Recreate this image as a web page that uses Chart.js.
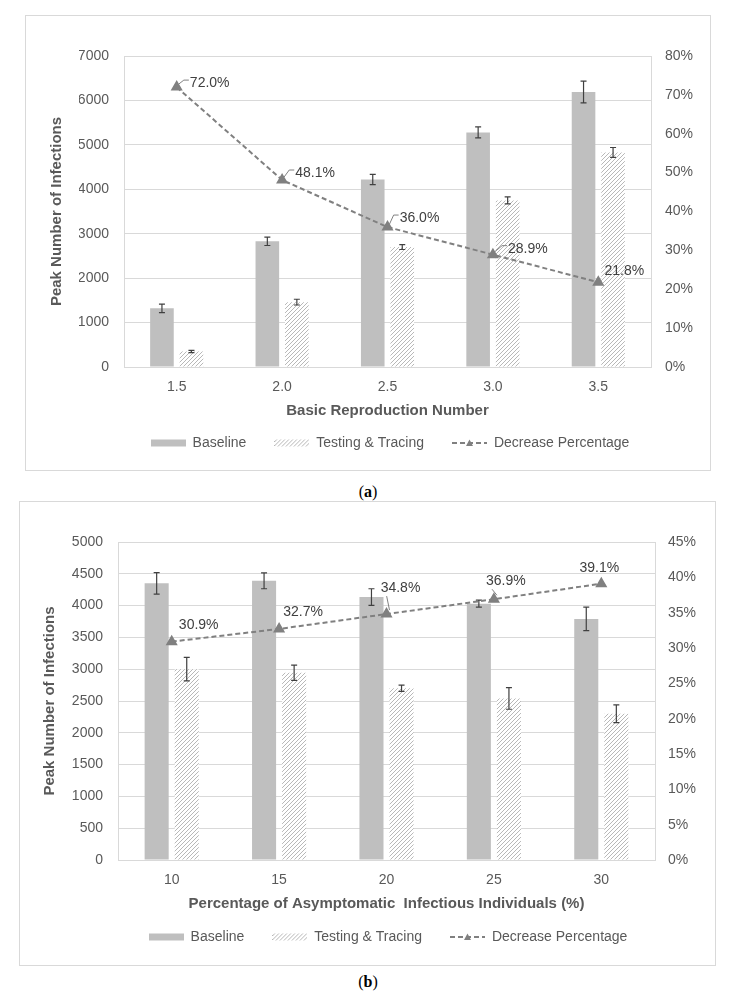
<!DOCTYPE html>
<html>
<head>
<meta charset="utf-8">
<title>Peak Number of Infections</title>
<script src="https://cdn.jsdelivr.net/npm/chart.js@4.4.1/dist/chart.umd.min.js"></script>
<style>
    body { margin: 0; background: #fff; width: 736px; height: 1006px; position: relative; }
    .panel { position: absolute; border: 1px solid #d9d9d9; background: #fff; }
    .panel canvas { display: block; }
    #panel-a { left: 25px; top: 15px; width: 684px; height: 454px; }
    #panel-b { left: 19px; top: 501px; width: 695px; height: 463px; }
    .caption { position: absolute; left: 0; width: 736px; text-align: center; line-height: 20px;
               font: 16px "Liberation Serif", "DejaVu Serif", serif; color: #000; }
</style>
</head>
<body>
<div class="panel" id="panel-a"><canvas id="chart-a" width="684" height="454"></canvas></div>
<div class="caption" style="top: 483px;">(<b>a</b>)</div>
<div class="panel" id="panel-b"><canvas id="chart-b" width="695" height="463"></canvas></div>
<div class="caption" style="top: 973px;">(<b>b</b>)</div>

<script>
// Panel (a) - basic reproduction number
const reproNumbers = ['1.5', '2.0', '2.5', '3.0', '3.5'];
const baselineA = [1320, 2830, 4220, 5280, 6190];
const baselineErrA = [95, 95, 115, 125, 245];
const tracingA = [350, 1460, 2700, 3750, 4830];
const tracingErrA = [25, 65, 55, 80, 110];
const decreaseA = [72.0, 48.1, 36.0, 28.9, 21.8];

// Panel (b) - share of asymptomatic infectious individuals
const asymptomaticPct = ['10', '15', '20', '25', '30'];
const baselineB = [4350, 4390, 4135, 4030, 3790];
const baselineErrB = [170, 125, 130, 55, 185];
const tracingB = [3000, 2945, 2700, 2540, 2300];
const tracingErrB = [185, 120, 50, 170, 140];
const decreaseB = [30.9, 32.7, 34.8, 36.9, 39.1];

const textColor = '#595959';
const gridColor = '#d9d9d9';
const lineColor = '#808080';
Chart.defaults.font.family = '"Liberation Sans", Arial, sans-serif';

// diagonal hatch used for the testing & tracing bars
function hatch(ctx) {
    const p = document.createElement('canvas');
    p.width = 4; p.height = 4;
    const c = p.getContext('2d');
    c.fillStyle = '#fff';
    c.fillRect(0, 0, 4, 4);
    c.strokeStyle = '#b8b8b8';
    c.lineWidth = 1;
    c.beginPath();
    c.moveTo(0, 4); c.lineTo(4, 0);
    c.moveTo(-1, 1); c.lineTo(1, -1);
    c.moveTo(3, 5); c.lineTo(5, 3);
    c.stroke();
    return ctx.createPattern(p, 'repeat');
}

// small canvases used as legend symbols
function legendIcon(kind) {
    const cv = document.createElement('canvas');
    cv.width = 35; cv.height = 10;
    const c = cv.getContext('2d');
    if (kind === 'line') {
        c.strokeStyle = lineColor;
        c.lineWidth = 2;
        c.setLineDash([5, 3]);
        c.beginPath(); c.moveTo(0, 5); c.lineTo(35, 5); c.stroke();
        c.fillStyle = lineColor;
        c.beginPath(); c.moveTo(17.5, 1.5); c.lineTo(21, 8); c.lineTo(14, 8); c.closePath(); c.fill();
    } else {
        c.fillStyle = kind === 'hatch' ? hatch(c) : '#bfbfbf';
        c.fillRect(0, 1.5, 35, 7);
    }
    return cv;
}

const errorBars = {
    id: 'errorBars',
    afterDatasetDraw(chart, args) {
        const ds = chart.data.datasets[args.index];
        if (!ds.errors) return;
        const { ctx } = chart;
        const scale = chart.scales[ds.yAxisID];
        ctx.save();
        ctx.strokeStyle = '#404040';
        ctx.lineWidth = 1.2;
        args.meta.data.forEach((bar, i) => {
            const top = scale.getPixelForValue(ds.data[i] + ds.errors[i]);
            const bottom = scale.getPixelForValue(ds.data[i] - ds.errors[i]);
            ctx.beginPath();
            ctx.moveTo(bar.x, top); ctx.lineTo(bar.x, bottom);
            ctx.moveTo(bar.x - 3, top); ctx.lineTo(bar.x + 3, top);
            ctx.moveTo(bar.x - 3, bottom); ctx.lineTo(bar.x + 3, bottom);
            ctx.stroke();
        });
        ctx.restore();
    }
};

// percentage labels next to the triangles, with the short leader lines
const pointLabels = {
    id: 'pointLabels',
    afterDatasetsDraw(chart, args, opts) {
        const { ctx } = chart;
        const meta = chart.getDatasetMeta(2);
        const values = chart.data.datasets[2].data;
        ctx.save();
        ctx.font = '14px "Liberation Sans", Arial, sans-serif';
        ctx.textAlign = 'center';
        ctx.textBaseline = 'middle';
        ctx.strokeStyle = lineColor;
        ctx.lineWidth = 1;
        meta.data.forEach((pt, i) => {
            const text = values[i].toFixed(1) + '%';
            const cx = pt.x + opts.offsets[i][0];
            const cy = pt.y + opts.offsets[i][1];
            const half = ctx.measureText(text).width / 2;
            if (opts.leaders[i]) {
                ctx.beginPath();
                if (Math.abs(opts.offsets[i][1]) < 14) {
                    ctx.moveTo(pt.x + 2, pt.y - 3);
                    ctx.lineTo(cx - half - 6, cy - 3);
                    ctx.lineTo(cx - half - 1, cy - 3);
                } else {
                    ctx.moveTo(pt.x + 3, pt.y - 4);
                    ctx.lineTo(cx - half + 6, cy + 8);
                }
                ctx.stroke();
            }
            ctx.fillStyle = '#404040';
            ctx.fillText(text, cx, cy);
        });
        ctx.restore();
    }
};

function buildChart(canvasId, o) {
    const ctx = document.getElementById(canvasId).getContext('2d');
    const icons = [legendIcon('solid'), legendIcon('hatch'), legendIcon('line')];

    return new Chart(ctx, {
        type: 'bar',
        data: {
            labels: o.labels,
            datasets: [{
                label: 'Baseline',
                data: o.baseline,
                errors: o.baselineErr,
                backgroundColor: '#bfbfbf',
                yAxisID: 'y',
                order: 2
            }, {
                label: 'Testing & Tracing',
                data: o.tracing,
                errors: o.tracingErr,
                backgroundColor: hatch(ctx),
                yAxisID: 'y',
                order: 2
            }, {
                type: 'line',
                label: 'Decrease Percentage',
                data: o.decrease,
                yAxisID: 'y1',
                borderColor: lineColor,
                backgroundColor: lineColor,
                borderWidth: 2,
                borderDash: [5, 3],
                pointStyle: 'triangle',
                pointRadius: 5,
                pointHoverRadius: 5,
                tension: 0,
                order: 1
            }]
        },
        options: {
            responsive: false,
            animation: false,
            events: [],
            datasets: { bar: { categoryPercentage: 0.56, barPercentage: 0.8 } },
            layout: { padding: { left: o.padLeft, right: o.padRight, top: 40, bottom: o.padBottom } },
            plugins: {
                tooltip: { enabled: false },
                legend: {
                    position: 'bottom',
                    labels: {
                        usePointStyle: true,
                        pointStyleWidth: 35,
                        padding: 28,
                        color: textColor,
                        font: { size: 14 },
                        generateLabels: chart => chart.data.datasets.map((ds, i) => ({
                            text: ds.label,
                            pointStyle: icons[i],
                            datasetIndex: i,
                            hidden: false,
                            lineWidth: 0,
                            fillStyle: 'transparent',
                            strokeStyle: 'transparent',
                            fontColor: textColor
                        }))
                    }
                },
                pointLabels: { offsets: o.labelOffsets, leaders: o.leaders }
            },
            scales: {
                x: {
                    grid: { display: false, drawTicks: false },
                    border: { color: gridColor },
                    ticks: { color: textColor, font: { size: 14 }, padding: 12 },
                    title: {
                        display: true,
                        text: o.xTitle,
                        color: textColor,
                        font: { size: 15, weight: 'bold' },
                        padding: { top: 0, bottom: o.xTitlePad }
                    },
                    afterFit: s => { s.height = o.xAxisHeight; }
                },
                y: {
                    position: 'left',
                    min: 0,
                    max: o.yMax,
                    ticks: {
                        stepSize: o.yStep,
                        color: textColor,
                        font: { size: 14 },
                        padding: 15,
                        callback: v => String(v)
                    },
                    grid: { color: gridColor, drawTicks: false },
                    border: { color: gridColor },
                    title: {
                        display: true,
                        text: 'Peak Number of Infections',
                        color: textColor,
                        font: { size: 15, weight: 'bold' },
                        padding: { top: o.yTitlePad, bottom: 0 }
                    },
                    afterFit: s => { s.width = o.yAxisWidth; }
                },
                y1: {
                    position: 'right',
                    min: 0,
                    max: o.pctMax,
                    ticks: {
                        stepSize: o.pctStep,
                        color: textColor,
                        font: { size: 14 },
                        padding: o.pctPad,
                        callback: v => v + '%'
                    },
                    grid: { display: false, drawTicks: false },
                    border: { color: gridColor },
                    afterFit: s => { s.width = 50; }
                }
            }
        },
        plugins: [errorBars, pointLabels]
    });
}

document.addEventListener('DOMContentLoaded', () => {
    buildChart('chart-a', {
        labels: reproNumbers,
        baseline: baselineA, baselineErr: baselineErrA,
        tracing: tracingA, tracingErr: tracingErrA,
        decrease: decreaseA,
        xTitle: 'Basic Reproduction Number',
        yMax: 7000, yStep: 1000,
        pctMax: 80, pctStep: 10, pctPad: 14,
        padLeft: 53, padRight: 9, padBottom: 10,
        yAxisWidth: 45, yTitlePad: -31,
        xAxisHeight: 41, xTitlePad: -12,
        labelOffsets: [[33, -4], [33, -7], [32, -9], [35, -6], [26, -11]],
        leaders: [true, true, true, true, false]
    });

    buildChart('chart-b', {
        labels: asymptomaticPct,
        baseline: baselineB, baselineErr: baselineErrB,
        tracing: tracingB, tracingErr: tracingErrB,
        decrease: decreaseB,
        xTitle: 'Percentage of Asymptomatic  Infectious Individuals (%)',
        yMax: 5000, yStep: 500,
        pctMax: 45, pctStep: 5, pctPad: 13,
        padLeft: 51, padRight: 10, padBottom: 11,
        yAxisWidth: 47, yTitlePad: -30,
        xAxisHeight: 42, xTitlePad: -11,
        labelOffsets: [[27, -16], [24, -17], [14, -26], [12, -18], [-2, -16]],
        leaders: [false, false, true, true, false]
    });
});
</script>
</body>
</html>
